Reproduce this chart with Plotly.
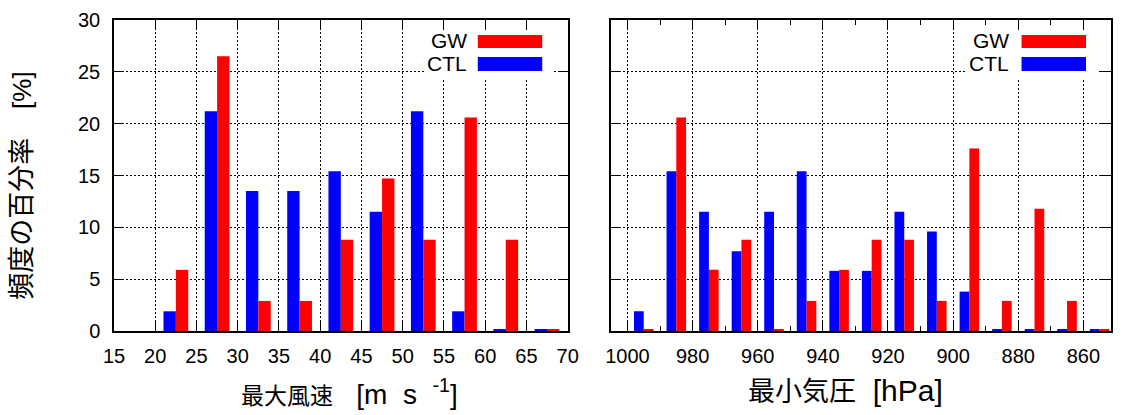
import plotly.graph_objects as go

# ---- data (percent of occurrences) ----
wind_centers = [22.5, 27.5, 32.5, 37.5, 42.5, 47.5, 52.5, 57.5, 62.5, 67.5]
wind_ctl = [1.9, 21.2, 13.5, 13.5, 15.4, 11.5, 21.2, 1.9, 0.15, 0.15]
wind_gw = [5.9, 26.5, 2.9, 2.9, 8.8, 14.7, 8.8, 20.6, 8.8, 0.15]

pres_centers = [995, 985, 975, 965, 955, 945, 935, 925, 915, 905, 895, 885, 875, 865, 855]
pres_ctl = [1.9, 15.4, 11.5, 7.7, 11.5, 15.4, 5.8, 5.8, 11.5, 9.6, 3.8, 0.15, 0.15, 0.15, 0.15]
pres_gw = [0.15, 20.6, 5.9, 8.8, 0.15, 2.9, 5.9, 8.8, 8.8, 2.9, 17.6, 2.9, 11.8, 2.9, 0.15]

wind_ticks = list(range(15, 71, 5))
pres_ticks = list(range(1000, 859, -20))
y_ticks = list(range(0, 31, 5))

series_names = ["GW", "CTL"]
RED = "#ff0000"
BLUE = "#0000ff"
LATIN = "Liberation Sans, Arial, sans-serif"
CJK = "Noto Sans CJK JP, sans-serif"

fig = go.Figure()

# left panel
fig.add_trace(go.Bar(x=wind_centers, y=wind_ctl, width=1.5, offset=-1.5,
                     marker=dict(color=BLUE, line=dict(width=0)), xaxis="x", yaxis="y",
                     name="CTL", showlegend=False))
fig.add_trace(go.Bar(x=wind_centers, y=wind_gw, width=1.5, offset=0,
                     marker=dict(color=RED, line=dict(width=0)), xaxis="x", yaxis="y",
                     name="GW", showlegend=False))
# right panel (reversed axis)
fig.add_trace(go.Bar(x=pres_centers, y=pres_ctl, width=3, offset=0,
                     marker=dict(color=BLUE, line=dict(width=0)), xaxis="x2", yaxis="y2",
                     name="CTL", showlegend=False))
fig.add_trace(go.Bar(x=pres_centers, y=pres_gw, width=3, offset=-3,
                     marker=dict(color=RED, line=dict(width=0)), xaxis="x2", yaxis="y2",
                     name="GW", showlegend=False))

axis_common = dict(
    showline=True, linecolor="black", linewidth=1.5, mirror="ticks",
    ticks="inside", ticklen=10, tickwidth=1, tickcolor="black",
    showgrid=True, gridcolor="black", gridwidth=1, griddash="2px,2px",
    zeroline=False, tickfont=dict(family=LATIN, size=20, color="black"),
)

fig.update_layout(
    width=1126, height=415,
    margin=dict(l=114, r=4, t=20, b=84),
    paper_bgcolor="white", plot_bgcolor="white",
    barmode="overlay", showlegend=False,
    xaxis=dict(domain=[0, 0.455], range=[15, 70], tickvals=wind_ticks,
               anchor="y", ticklabelstandoff=6, **axis_common),
    yaxis=dict(domain=[0, 1], range=[0, 30], tickvals=y_ticks, anchor="x",
               ticklabelstandoff=8, **axis_common),
    xaxis2=dict(domain=[0.4987, 1.0], range=[1005, 851.5], tickvals=pres_ticks,
                anchor="y2", ticklabelstandoff=6,
                minor=dict(dtick=10, tick0=1000, ticks="inside", ticklen=5,
                           tickcolor="black", showgrid=False),
                **axis_common),
    yaxis2=dict(domain=[0, 1], range=[0, 30], tickvals=y_ticks, anchor="x2",
                showticklabels=False, **axis_common),
)

# legend boxes drawn per panel
legend_specs = [
    ("x domain", "y domain", (0.684, 0.968), 0.783, (0.802, 0.944)),
    ("x2 domain", "y2 domain", (0.709, 0.976), 0.800, (0.821, 0.950)),
]
row_y = [(0.933, 0.910, 0.952), (0.860, 0.836, 0.881)]
colors = [RED, BLUE]
shapes = []
annotations = []
for xr, yr, (bx0, bx1), tx, (sx0, sx1) in legend_specs:
    shapes.append(dict(type="rect", xref=xr, yref=yr, x0=bx0, x1=bx1, y0=0.813, y1=0.962,
                       fillcolor="white", line=dict(width=0), layer="above"))
for xr, yr, (bx0, bx1), tx, (sx0, sx1) in legend_specs:
    for name, col, (ty, sy0, sy1) in zip(series_names, colors, row_y):
        shapes.append(dict(type="rect", xref=xr, yref=yr, x0=sx0, x1=sx1, y0=sy0, y1=sy1,
                           fillcolor=col, line=dict(width=0), layer="above"))
        annotations.append(dict(xref=xr, yref=yr, x=tx, y=ty, text=name, showarrow=False,
                                xanchor="right", yanchor="middle",
                                font=dict(family=LATIN, size=21, color="black")))


def latin(s, size):
    return f'<span style="font-family:Liberation Sans;font-size:{size}px">{s}</span>'


annotations += [
    dict(xref="paper", yref="paper", x=-0.0942, y=0.467,
         text="頻度の百分率" + latin("&nbsp;&nbsp;&nbsp;&nbsp;[%]", 26),
         textangle=-90, showarrow=False, xanchor="center", yanchor="middle",
         font=dict(family=CJK, size=27, color="black")),
    dict(xref="paper", yref="paper", x=0.2361, y=-0.197,
         text="最大風速" + latin("&nbsp;&nbsp;&nbsp;[m&nbsp;&nbsp;s&nbsp;&nbsp;<sup>-1</sup>]", 28),
         showarrow=False, xanchor="center", yanchor="middle",
         font=dict(family=CJK, size=23, color="black")),
    dict(xref="paper", yref="paper", x=0.7336, y=-0.187,
         text="最小気圧" + latin("&nbsp;&nbsp;[hPa]", 30),
         showarrow=False, xanchor="center", yanchor="middle",
         font=dict(family=CJK, size=27, color="black")),
]
fig.update_layout(shapes=shapes, annotations=annotations)

fig.write_html("out.html", post_script="document.body.style.margin='0';",
               config={"displayModeBar": False})
